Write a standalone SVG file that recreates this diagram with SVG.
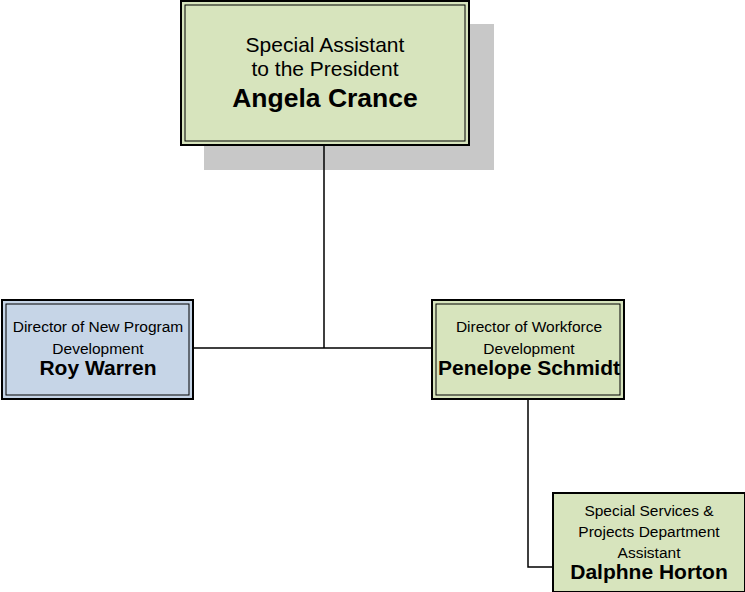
<svg xmlns="http://www.w3.org/2000/svg" width="745" height="592" viewBox="0 0 745 592">
<style>
.o{stroke:#000;stroke-width:2}
.i{fill:none;stroke:#000;stroke-width:1}
.g{fill:#d7e4bd}
.b{fill:#c6d5e7}
text{font-family:"Liberation Sans",Arial,sans-serif;fill:#000;text-anchor:middle}
.n{font-weight:bold}
.s{font-size:15.5px}
.c{fill:none;stroke:#000;stroke-width:1.5}
</style>
<rect x="204" y="24" width="290" height="146" fill="#c8c8c8"/>
<g id="connectors">
<path class="c" d="M324 145V348M193 348H432M528 399V567H553"/>
</g>
<g id="n1">
<rect class="o g" x="181" y="1" width="288" height="144"/>
<rect class="i" x="185" y="5" width="280" height="136"/>
<text x="325" y="52" font-size="21">Special Assistant</text>
<text x="325" y="76" font-size="21">to the President</text>
<text x="325" y="107" font-size="26.5" class="n">Angela Crance</text>
</g>
<g id="n2">
<rect class="o b" x="2" y="300" width="191" height="99"/>
<rect class="i" x="6" y="304" width="183" height="91"/>
<text x="98" y="332" class="s">Director of New Program</text>
<text x="98" y="354" class="s">Development</text>
<text x="98" y="375" font-size="21" class="n">Roy Warren</text>
</g>
<g id="n3">
<rect class="o g" x="432" y="300" width="192" height="99"/>
<rect class="i" x="436" y="304" width="184" height="91"/>
<text x="529" y="332" class="s">Director of Workforce</text>
<text x="529" y="354" class="s">Development</text>
<text x="529" y="375" font-size="21" class="n">Penelope Schmidt</text>
</g>
<g id="n4">
<rect class="o g" x="553" y="493" width="192" height="99"/>
<text x="649" y="516" class="s">Special Services &amp;</text>
<text x="649" y="537" class="s">Projects Department</text>
<text x="649" y="558" class="s">Assistant</text>
<text x="649" y="579" font-size="21" class="n">Dalphne Horton</text>
</g>
</svg>
